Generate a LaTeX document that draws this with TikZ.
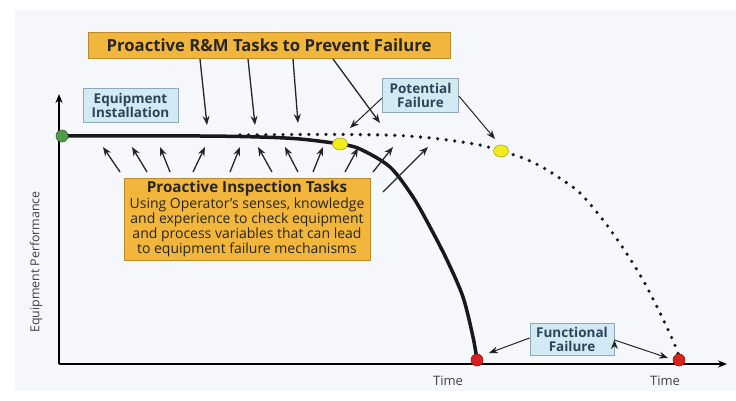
\documentclass[tikz,border=0pt]{standalone}
\usepackage{fontspec}
\setmainfont{Open Sans}
\usetikzlibrary{arrows.meta,positioning,shapes.geometric}

\definecolor{taskfill}{HTML}{F2B63C}
\definecolor{taskline}{HTML}{B98B2A}
\definecolor{notefill}{HTML}{D3E9F3}
\definecolor{noteline}{HTML}{8EA8B5}
\definecolor{notetext}{HTML}{2C4658}
\definecolor{panelfill}{HTML}{F5F7FB}
\definecolor{startgreen}{HTML}{4E9A45}
\definecolor{warnyellow}{HTML}{F2EC1E}
\definecolor{failred}{HTML}{D8221E}

\begin{document}
\begin{tikzpicture}[x=1pt,y=-1pt,>={Stealth[length=9pt,width=7pt]},
  task/.style={draw=taskline,fill=taskfill,line width=0.8pt,inner sep=0pt,text=black!85},
  note/.style={draw=noteline,fill=notefill,line width=0.8pt,inner sep=0pt,align=center,
    text=notetext,font=\bfseries\fontsize{13.5}{14}\selectfont},
  dot/.style={circle,draw=#1!70!black,fill=#1,line width=0.6pt,inner sep=0pt,minimum size=12pt},
  hint/.style={->,line width=1.3pt,draw=black!85},
  axislabel/.style={text=black!75,font=\fontsize{12.4}{12.4}\selectfont}]
  \useasboundingbox (0,0) rectangle (736,401);

  % panel
  \fill[panelfill] (15,10) rectangle (736,391);

  % axes
  \coordinate (o)  at (59,364);
  \coordinate (yt) at (59,94);
  \coordinate (xt) at (727,364);
  \draw[->,line width=1.8pt] (o) -- (yt);
  \draw[->,line width=1.8pt] (o) -- (xt);
  \node[axislabel,rotate=90] (perf) at (36,262) {Equipment Performance};
  \node[axislabel,font=\fontsize{13}{13}\selectfont] (time1) at (448,381) {Time};
  \node[axislabel,font=\fontsize{13}{13}\selectfont] (time2) at (665,381) {Time};

  % curves
  \draw[line width=3.5pt,black!90] plot[smooth,tension=0.5] coordinates {(63,136) (200,136) (260,137)
    (300,139) (340,144) (360,149) (390,167) (413,197) (430,227) (447,260) (463,297) (473,337) (477,360)};
  \draw[line width=3.6pt,black!90,line cap=round,dash pattern=on 0pt off 8.6pt]
    plot[smooth,tension=0.5] coordinates {(240,135) (300,134.5) (350,134.5) (400,135.5) (440,139)
    (480,145) (501,151) (523,158) (542,167) (558,177) (580,193) (603,220) (623,248) (643,280)
    (662,317) (677,350) (679,360)};

  % dots
  \node[dot=startgreen] (install) at (62,136) {};
  \node[dot=warnyellow,minimum width=15pt,minimum height=12pt,ellipse] (pf1) at (340,144) {};
  \node[dot=warnyellow,minimum width=15pt,minimum height=12pt,ellipse] (pf2) at (501,151) {};
  \node[dot=failred] (ff1) at (477,360) {};
  \node[dot=failred] (ff2) at (679,360) {};

  % boxes
  \node[task,minimum width=362pt,minimum height=26pt,font=\bfseries\fontsize{16.7}{16.7}\selectfont]
    (rm) at (269,45) {Proactive R\&M Tasks to Prevent Failure};
  \node[task,minimum width=246pt,minimum height=82pt,align=center,
    font=\fontsize{14}{13.8}\selectfont] (insp) at (247,219)
    {{\bfseries\fontsize{15.2}{15}\selectfont Proactive Inspection Tasks}\\[0pt]
     Using Operator's senses, knowledge\\
     and experience to check equipment\\
     and process variables that can lead\\
     to equipment failure mechanisms};
  \node[note,minimum width=95pt,minimum height=34pt] (inst) at (130.5,105) {Equipment\\Installation};
  \node[note,minimum width=76pt,minimum height=34pt]
    (pot) at (420.5,95) {Potential\\Failure};
  \node[note,minimum width=84pt,minimum height=32pt]
    (func) at (572,339) {Functional\\Failure};

  % arrows from the R&M box
  \foreach \tx/\hx/\hy [count=\i] in {200/207/125, 248/255/125, 293/298/123, 333/380/123} {
    \coordinate (rt\i) at (\tx,59);
    \coordinate (rh\i) at (\hx,\hy);
    \draw[hint] (rt\i) -- (rh\i);
  }

  % arrows from the inspection box
  \foreach \tx/\ty/\hx/\hy [count=\i] in {120/172/103/147, 147/172/132/147, 170/172/160/147,
      193/172/205/147, 230/172/240/147, 272/172/258/147, 298/172/285/147, 313/172/323/147,
      345/172/358/148, 373/172/393/147, 383/192/428/147} {
    \coordinate (it\i) at (\tx,\ty);
    \coordinate (ih\i) at (\hx,\hy);
    \draw[hint] (it\i) -- (ih\i);
  }

  % callouts
  \coordinate (pa) at (350,128);
  \coordinate (pb) at (495,139);
  \coordinate (fa) at (489,353);
  \coordinate (fb) at (668,358);
  \path[hint,line width=1pt] (pot.west|-0,98) edge (pa)
    (pot.east|-0,96) edge (pb)
    (func.west|-0,338) edge (fa)
    (func.east|-0,340) edge (fb);
\end{tikzpicture}
\end{document}
